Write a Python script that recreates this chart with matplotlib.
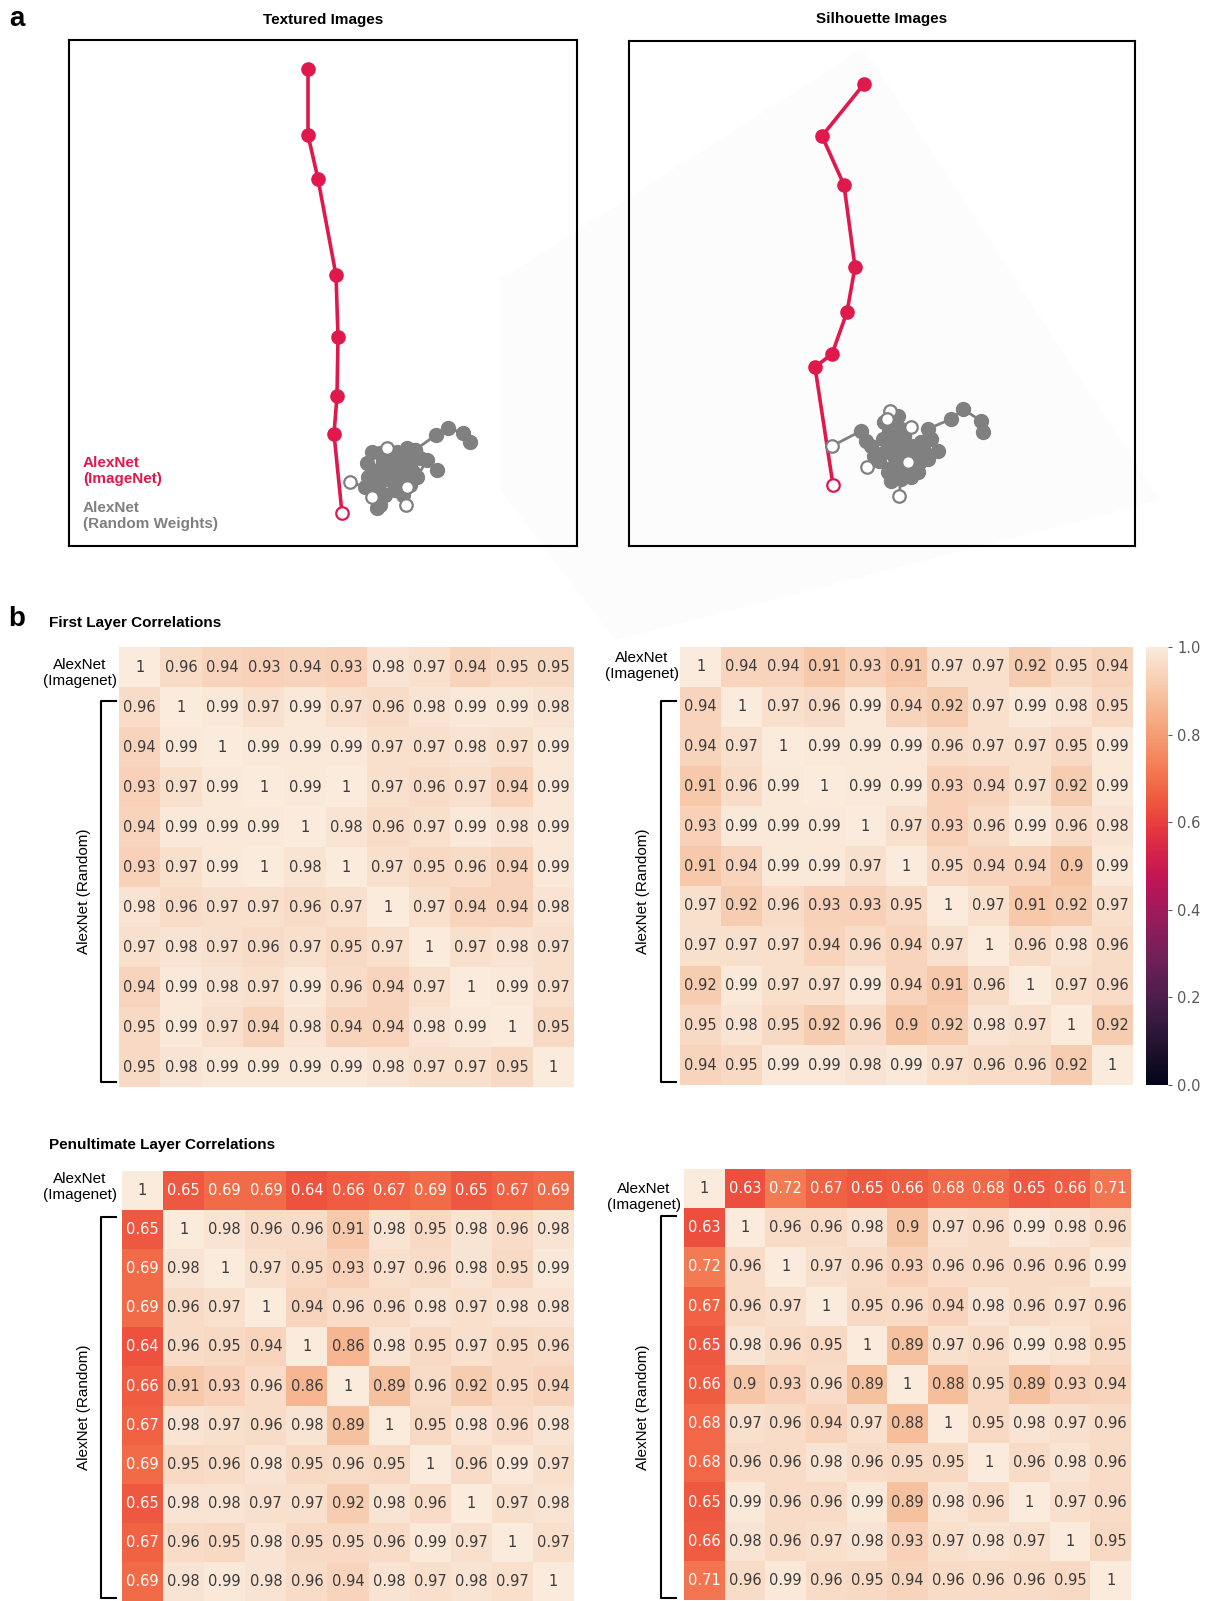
import matplotlib.pyplot as plt
import seaborn as sns
from matplotlib.lines import Line2D
from matplotlib.patches import Polygon

W, H = 1205, 1601
RED = "#e0194d"
GREY = "#808080"
SANS = ["Liberation Sans", "DejaVu Sans"]

# --------------------------------------------------------------------------- #
# panel a: 2-D embedding of the layer trajectories (arbitrary units)
# --------------------------------------------------------------------------- #
tex_imagenet_x = [2.73, 2.65, 2.68, 2.69, 2.67, 2.49, 2.39, 2.39]
tex_imagenet_y = [0.33, 1.12, 1.50, 2.09, 2.71, 3.67, 4.11, 4.77]
tex_random = [
    [(3.18, 0.97), (3.11, 0.93), (3.03, 0.94), (2.98, 0.83), (3.09, 0.76), (3.21, 0.66), (3.31, 0.69), (3.41, 0.79)],
    [(2.81, 0.64), (2.96, 0.59), (2.99, 0.69), (3.09, 0.58), (3.21, 0.76), (3.28, 0.94), (3.38, 0.98), (3.46, 0.96),
     (3.67, 1.11), (3.79, 1.18), (3.94, 1.13), (4.01, 1.04)],
    [(3.38, 0.59), (3.31, 0.69), (3.48, 0.69), (3.58, 0.86), (3.51, 0.88), (3.68, 0.76), (3.46, 0.96)],
    [(3.03, 0.49), (3.08, 0.38), (3.11, 0.41), (3.16, 0.51), (3.09, 0.58), (3.26, 0.56), (3.31, 0.61)],
    [(3.37, 0.41), (3.34, 0.51), (3.41, 0.61), (3.36, 0.76), (3.26, 0.84), (3.16, 0.81), (3.23, 0.91)],
    [(3.18, 0.98), (3.13, 0.70), (3.04, 0.72), (3.00, 0.62), (3.14, 0.85), (3.30, 0.80), (3.39, 0.86), (3.44, 0.74),
     (3.26, 0.72)],
]

sil_imagenet_x = [2.04, 1.86, 2.03, 2.18, 2.26, 2.15, 1.93, 2.35]
sil_imagenet_y = [0.61, 1.79, 1.92, 2.34, 2.79, 3.61, 4.10, 4.62]
sil_random = [
    [(2.03, 1.00), (2.32, 1.15), (2.37, 1.05), (2.42, 1.00), (2.45, 0.90), (2.52, 0.92), (2.59, 1.04), (2.55, 1.24)],
    [(2.38, 0.79), (2.50, 0.85), (2.59, 0.74), (2.62, 0.65), (2.72, 0.77), (2.75, 0.82), (2.65, 0.90), (2.75, 1.10)],
    [(2.70, 0.50), (2.72, 0.67), (2.82, 0.69), (2.89, 0.74), (2.99, 0.87), (3.09, 0.95), (3.02, 1.07), (2.92, 1.04)],
    [(2.61, 1.35), (2.69, 1.30), (2.75, 1.10), (2.79, 0.94), (2.92, 1.04), (2.99, 1.17), (3.22, 1.27), (3.34, 1.37),
     (3.52, 1.25), (3.54, 1.14)],
    [(2.82, 1.19), (2.72, 1.17), (2.62, 1.07), (2.67, 0.97), (2.79, 0.87), (2.87, 0.82), (2.77, 0.72), (2.65, 0.69)],
    [(2.79, 0.84), (2.84, 0.92), (2.72, 1.02), (2.60, 1.15), (2.54, 1.07), (2.58, 0.95)],
    [(2.58, 1.27), (2.66, 1.22), (2.70, 0.95), (2.84, 1.00), (2.95, 0.95), (2.90, 0.83), (2.70, 0.85), (2.62, 0.78)],
]

# --------------------------------------------------------------------------- #
# panel b: correlation matrices (row/col 0 = AlexNet ImageNet, 1..10 = random)
# --------------------------------------------------------------------------- #
first_textured = [
    [1, 0.96, 0.94, 0.93, 0.94, 0.93, 0.98, 0.97, 0.94, 0.95, 0.95],
    [0.96, 1, 0.99, 0.97, 0.99, 0.97, 0.96, 0.98, 0.99, 0.99, 0.98],
    [0.94, 0.99, 1, 0.99, 0.99, 0.99, 0.97, 0.97, 0.98, 0.97, 0.99],
    [0.93, 0.97, 0.99, 1, 0.99, 1, 0.97, 0.96, 0.97, 0.94, 0.99],
    [0.94, 0.99, 0.99, 0.99, 1, 0.98, 0.96, 0.97, 0.99, 0.98, 0.99],
    [0.93, 0.97, 0.99, 1, 0.98, 1, 0.97, 0.95, 0.96, 0.94, 0.99],
    [0.98, 0.96, 0.97, 0.97, 0.96, 0.97, 1, 0.97, 0.94, 0.94, 0.98],
    [0.97, 0.98, 0.97, 0.96, 0.97, 0.95, 0.97, 1, 0.97, 0.98, 0.97],
    [0.94, 0.99, 0.98, 0.97, 0.99, 0.96, 0.94, 0.97, 1, 0.99, 0.97],
    [0.95, 0.99, 0.97, 0.94, 0.98, 0.94, 0.94, 0.98, 0.99, 1, 0.95],
    [0.95, 0.98, 0.99, 0.99, 0.99, 0.99, 0.98, 0.97, 0.97, 0.95, 1],
]
first_silhouette = [
    [1, 0.94, 0.94, 0.91, 0.93, 0.91, 0.97, 0.97, 0.92, 0.95, 0.94],
    [0.94, 1, 0.97, 0.96, 0.99, 0.94, 0.92, 0.97, 0.99, 0.98, 0.95],
    [0.94, 0.97, 1, 0.99, 0.99, 0.99, 0.96, 0.97, 0.97, 0.95, 0.99],
    [0.91, 0.96, 0.99, 1, 0.99, 0.99, 0.93, 0.94, 0.97, 0.92, 0.99],
    [0.93, 0.99, 0.99, 0.99, 1, 0.97, 0.93, 0.96, 0.99, 0.96, 0.98],
    [0.91, 0.94, 0.99, 0.99, 0.97, 1, 0.95, 0.94, 0.94, 0.90, 0.99],
    [0.97, 0.92, 0.96, 0.93, 0.93, 0.95, 1, 0.97, 0.91, 0.92, 0.97],
    [0.97, 0.97, 0.97, 0.94, 0.96, 0.94, 0.97, 1, 0.96, 0.98, 0.96],
    [0.92, 0.99, 0.97, 0.97, 0.99, 0.94, 0.91, 0.96, 1, 0.97, 0.96],
    [0.95, 0.98, 0.95, 0.92, 0.96, 0.90, 0.92, 0.98, 0.97, 1, 0.92],
    [0.94, 0.95, 0.99, 0.99, 0.98, 0.99, 0.97, 0.96, 0.96, 0.92, 1],
]
penult_textured = [
    [1, 0.65, 0.69, 0.69, 0.64, 0.66, 0.67, 0.69, 0.65, 0.67, 0.69],
    [0.65, 1, 0.98, 0.96, 0.96, 0.91, 0.98, 0.95, 0.98, 0.96, 0.98],
    [0.69, 0.98, 1, 0.97, 0.95, 0.93, 0.97, 0.96, 0.98, 0.95, 0.99],
    [0.69, 0.96, 0.97, 1, 0.94, 0.96, 0.96, 0.98, 0.97, 0.98, 0.98],
    [0.64, 0.96, 0.95, 0.94, 1, 0.86, 0.98, 0.95, 0.97, 0.95, 0.96],
    [0.66, 0.91, 0.93, 0.96, 0.86, 1, 0.89, 0.96, 0.92, 0.95, 0.94],
    [0.67, 0.98, 0.97, 0.96, 0.98, 0.89, 1, 0.95, 0.98, 0.96, 0.98],
    [0.69, 0.95, 0.96, 0.98, 0.95, 0.96, 0.95, 1, 0.96, 0.99, 0.97],
    [0.65, 0.98, 0.98, 0.97, 0.97, 0.92, 0.98, 0.96, 1, 0.97, 0.98],
    [0.67, 0.96, 0.95, 0.98, 0.95, 0.95, 0.96, 0.99, 0.97, 1, 0.97],
    [0.69, 0.98, 0.99, 0.98, 0.96, 0.94, 0.98, 0.97, 0.98, 0.97, 1],
]
penult_silhouette = [
    [1, 0.63, 0.72, 0.67, 0.65, 0.66, 0.68, 0.68, 0.65, 0.66, 0.71],
    [0.63, 1, 0.96, 0.96, 0.98, 0.90, 0.97, 0.96, 0.99, 0.98, 0.96],
    [0.72, 0.96, 1, 0.97, 0.96, 0.93, 0.96, 0.96, 0.96, 0.96, 0.99],
    [0.67, 0.96, 0.97, 1, 0.95, 0.96, 0.94, 0.98, 0.96, 0.97, 0.96],
    [0.65, 0.98, 0.96, 0.95, 1, 0.89, 0.97, 0.96, 0.99, 0.98, 0.95],
    [0.66, 0.90, 0.93, 0.96, 0.89, 1, 0.88, 0.95, 0.89, 0.93, 0.94],
    [0.68, 0.97, 0.96, 0.94, 0.97, 0.88, 1, 0.95, 0.98, 0.97, 0.96],
    [0.68, 0.96, 0.96, 0.98, 0.96, 0.95, 0.95, 1, 0.96, 0.98, 0.96],
    [0.65, 0.99, 0.96, 0.96, 0.99, 0.89, 0.98, 0.96, 1, 0.97, 0.96],
    [0.66, 0.98, 0.96, 0.97, 0.98, 0.93, 0.97, 0.98, 0.97, 1, 0.95],
    [0.71, 0.96, 0.99, 0.96, 0.95, 0.94, 0.96, 0.96, 0.96, 0.95, 1],
]
cbar_ticks = [0.0, 0.2, 0.4, 0.6, 0.8, 1.0]


# --------------------------------------------------------------------------- #
# helpers: figure pixel -> figure fraction
# --------------------------------------------------------------------------- #
def fx(px):
    return px / W


def fy(py):
    return 1 - py / H


def rect(x0, y0, x1, y1):
    return [fx(x0), fy(y1), (x1 - x0) / W, (y1 - y0) / H]


def draw_trajectories(ax, xs, ys, random_runs):
    ax.plot(xs, ys, color=RED, lw=2.6, zorder=2, solid_capstyle="round")
    ax.plot(xs[1:], ys[1:], "o", color=RED, ms=9.5, zorder=2)
    ax.plot(xs[0], ys[0], "o", mfc="white", mec=RED, mew=1.6, ms=9, zorder=2)
    for run in random_runs:
        rx = [p[0] for p in run]
        ry = [p[1] for p in run]
        ax.plot(rx, ry, color=GREY, lw=2.0, zorder=3)
        ax.plot(rx[1:], ry[1:], "o", color=GREY, ms=10, zorder=3)
    for run in random_runs:
        ax.plot(run[0][0], run[0][1], "o", mfc="white", mec=GREY, mew=1.6, ms=9, zorder=4)
    ax.set_xticks([])
    ax.set_yticks([])
    ax.set_facecolor("none")
    for s in ax.spines.values():
        s.set_color("black")
        s.set_linewidth(1.5)


def bracket(x, y0, y1, x_end):
    fig.add_artist(Line2D([fx(x_end), fx(x), fx(x), fx(x_end)], [fy(y0), fy(y0), fy(y1), fy(y1)],
                          transform=fig.transFigure, color="black", lw=1.5))


def side_labels(x_right, y_img, x_rand, y_rand):
    fig.text(fx(x_right), fy(y_img), "AlexNet\n(Imagenet)", ha="right", va="center", ma="center",
             fontsize=11, family=SANS, linespacing=1.1)
    fig.text(fx(x_rand), fy(y_rand), "AlexNet (Random)", ha="center", va="center", rotation=90,
             fontsize=11, family=SANS)


fig = plt.figure(figsize=(W / 100, H / 100), dpi=100)

# faint background shape behind the silhouette panel
bg = Polygon([(fx(864), fy(48)), (fx(1160), fy(500)), (fx(615), fy(640)),
              (fx(500), fy(490)), (fx(500), fy(280))],
             closed=True, transform=fig.transFigure, fc="#fcfcfc", ec="none")
bg.set_zorder(-5)
fig.patches.append(bg)

ax_t = fig.add_axes(rect(69, 40, 577, 546))
ax_t.set_xlim(0, 5.08)
ax_t.set_ylim(0, 5.06)
draw_trajectories(ax_t, tex_imagenet_x, tex_imagenet_y, tex_random)

ax_s = fig.add_axes(rect(629, 41, 1135, 546))
ax_s.set_xlim(0, 5.06)
ax_s.set_ylim(0, 5.05)
draw_trajectories(ax_s, sil_imagenet_x, sil_imagenet_y, sil_random)

fig.text(fx(83), fy(471), "AlexNet\n(ImageNet)", color=RED, fontsize=11, fontweight="bold",
         family=SANS, va="center", ha="left", linespacing=1.1)
fig.text(fx(83), fy(516), "AlexNet\n(Random Weights)", color=GREY, fontsize=11, fontweight="bold",
         family=SANS, va="center", ha="left", linespacing=1.1)

fig.text(fx(323), fy(20), "Textured Images", ha="center", va="center", fontsize=11,
         fontweight="bold", family=SANS)
fig.text(fx(882), fy(19), "Silhouette Images", ha="center", va="center", fontsize=11,
         fontweight="bold", family=SANS)
fig.text(fx(17), fy(19), "a", ha="center", va="center", fontsize=20, fontweight="bold", family=SANS)
fig.text(fx(17), fy(619), "b", ha="center", va="center", fontsize=20, fontweight="bold", family=SANS)
fig.text(fx(49), fy(623), "First Layer Correlations", ha="left", va="center", fontsize=11,
         fontweight="bold", family=SANS)
fig.text(fx(49), fy(1145), "Penultimate Layer Correlations", ha="left", va="center", fontsize=11,
         fontweight="bold", family=SANS)

# --------------------------------------------------------------------------- #
# heatmaps
# --------------------------------------------------------------------------- #
hm_kw = dict(cmap="rocket", vmin=0, vmax=1, annot=True, xticklabels=False, yticklabels=False,
             annot_kws={"fontsize": 10.5, "family": "DejaVu Sans"})

cax = fig.add_axes(rect(1146, 647, 1168, 1085))
ax1 = fig.add_axes(rect(119, 647, 574, 1087))
sns.heatmap(first_textured, ax=ax1, cbar=False, **hm_kw)
ax2 = fig.add_axes(rect(680, 647, 1133, 1085))
sns.heatmap(first_silhouette, ax=ax2, cbar=True, cbar_ax=cax, cbar_kws={"ticks": cbar_ticks}, **hm_kw)
ax3 = fig.add_axes(rect(122, 1171, 574, 1601))
sns.heatmap(penult_textured, ax=ax3, cbar=False, **hm_kw)
ax4 = fig.add_axes(rect(684, 1169, 1131, 1600))
sns.heatmap(penult_silhouette, ax=ax4, cbar=False, **hm_kw)

# soften the dark annotation colour a little, as in the original
for ax in (ax1, ax2, ax3, ax4):
    for t in ax.texts:
        if t.get_color() == ".15":
            t.set_color("#3c3c3c")

cax.tick_params(labelsize=10.5, colors="0.35", length=3, width=0.8)
for t in cax.get_yticklabels():
    t.set_family("DejaVu Sans")
cb = ax2.collections[0].colorbar
if cb is not None:
    cb.outline.set_visible(False)

side_labels(117, 673, 84, 891)
side_labels(679, 666, 643, 891)
side_labels(117, 1187, 84, 1407)
side_labels(681, 1197, 643, 1407)

bracket(101, 701, 1082, 116)
bracket(661, 701, 1082, 676)
bracket(101, 1217, 1598, 116)
bracket(661, 1216, 1598, 676)

fig.savefig("out.png", dpi=100)
